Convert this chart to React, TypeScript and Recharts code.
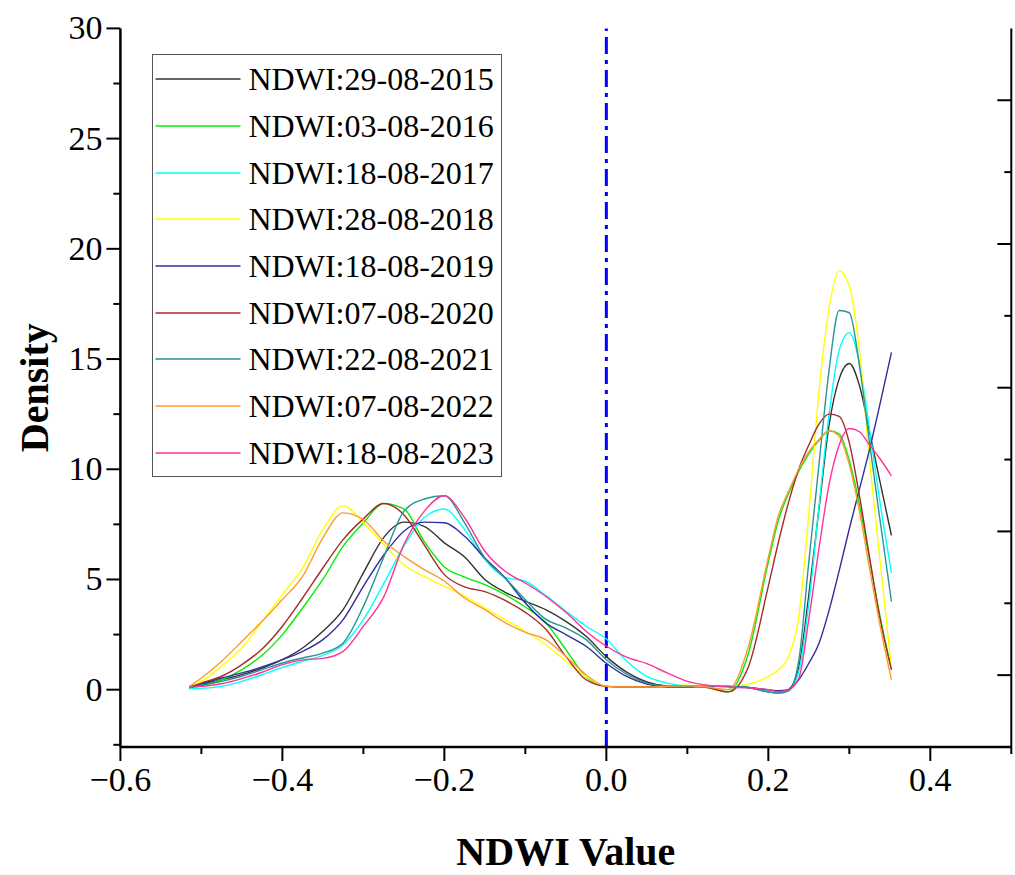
import { LineChart, Line, XAxis, YAxis, ReferenceLine, Legend, Label } from "recharts";

const FONT = '"Liberation Serif", "Times New Roman", serif';

// NDWI value (x) for every sample
const ndwiX = [
  -0.515, -0.5, -0.475, -0.45, -0.425, -0.4, -0.375, -0.35, -0.325, -0.3,
  -0.275, -0.25, -0.225, -0.2, -0.175, -0.15, -0.125, -0.1, -0.075, -0.05,
  -0.025, 0, 0.025, 0.05, 0.075, 0.1, 0.125, 0.15, 0.175, 0.2,
  0.2125, 0.225, 0.2375, 0.25, 0.2625, 0.275, 0.2875, 0.3, 0.3125, 0.325,
  0.3375, 0.352,
];

// density per date
const d2015 = [
  0.1, 0.23, 0.45, 0.68, 0.98, 1.36, 1.89, 2.65, 3.63, 5.3,
  6.9, 7.6, 7.41, 6.66, 6.02, 5.0, 4.42, 4.01, 3.63, 3.1,
  2.42, 1.5, 0.8, 0.35, 0.17, 0.15, 0.15, 0.15, 0.1, -0.1,
  -0.15, 0.0, 1.0, 4.3, 8.2, 12.0, 14.1, 14.8, 13.8, 11.7,
  9.5, 7.0,
];
const d2016 = [
  0.1, 0.18, 0.45, 0.91, 1.56, 2.5, 3.71, 5.0, 6.51, 7.57,
  8.45, 8.2, 6.73, 5.57, 5.11, 4.77, 4.31, 3.75, 3.05, 1.82,
  0.58, 0.15, 0.12, 0.12, 0.15, 0.18, 0.1, -0.1, 1.6, 5.8,
  7.7, 8.9, 9.9, 10.7, 11.3, 11.75, 11.6, 10.4, 8.4, 5.9,
  3.4, 0.95,
];
const d2017 = [
  0.05, 0.06, 0.15, 0.38, 0.68, 1.01, 1.29, 1.56, 2.04, 3.18,
  4.8, 6.51, 7.8, 8.2, 7.26, 5.9, 5.1, 4.92, 4.28, 3.56,
  2.88, 2.3, 1.3, 0.6, 0.3, 0.18, 0.15, 0.15, 0.1, -0.1,
  -0.15, -0.05, 0.8, 3.9, 8.3, 12.5, 15.4, 16.2, 14.8, 11.8,
  8.6, 5.3,
];
const d2018 = [
  0.15, 0.38, 1.06, 1.89, 3.1, 4.31, 5.52, 7.26, 8.35, 7.57,
  6.6, 5.67, 5.14, 4.69, 4.24, 3.71, 3.18, 2.65, 2.04, 1.29,
  0.6, 0.15, 0.15, 0.15, 0.17, 0.2, 0.15, 0.15, 0.25, 0.6,
  0.9, 1.5, 3.3, 8.0, 13.5, 17.3, 19.0, 18.3, 15.4, 10.4,
  6.0, 1.0,
];
const d2019 = [
  0.1, 0.27, 0.53, 0.76, 1.03, 1.36, 1.74, 2.27, 3.18, 4.69,
  6.1, 7.19, 7.6, 7.57, 6.96, 5.97, 5.07, 3.93, 3.03, 2.5,
  1.97, 1.2, 0.6, 0.25, 0.12, 0.12, 0.15, 0.15, 0.1, 0.0,
  -0.05, 0.0, 0.45, 1.2, 2.1, 3.6, 5.4, 7.3, 9.1, 10.9,
  12.9, 15.3,
];
const d2020 = [
  0.1, 0.3, 0.61, 1.14, 1.85, 2.88, 4.16, 5.52, 6.81, 7.75,
  8.45, 7.94, 6.58, 5.22, 4.66, 4.45, 4.05, 3.51, 2.75, 1.51,
  0.45, 0.15, 0.12, 0.12, 0.15, 0.18, 0.1, -0.1, 1.0, 4.7,
  6.7, 8.5, 10.0, 11.1, 12.05, 12.5, 12.4, 11.2, 8.8, 6.0,
  3.3, 0.9,
];
const d2021 = [
  0.1, 0.2, 0.38, 0.61, 0.91, 1.21, 1.44, 1.66, 2.12, 3.78,
  6.0, 8.09, 8.65, 8.8, 7.57, 5.97, 5.07, 4.08, 3.2, 2.8,
  2.27, 1.36, 0.7, 0.3, 0.17, 0.15, 0.15, 0.15, 0.1, -0.1,
  -0.15, -0.05, 1.3, 5.8, 10.2, 14.5, 17.2, 17.1, 14.7, 11.2,
  7.8, 4.0,
];
const d2022 = [
  0.15, 0.53, 1.29, 2.19, 3.1, 4.09, 5.14, 6.89, 8.02, 7.72,
  6.75, 6.05, 5.45, 4.92, 4.16, 3.63, 3.04, 2.6, 2.27, 1.51,
  0.68, 0.15, 0.12, 0.12, 0.15, 0.18, 0.12, 0.0, 1.9, 6.0,
  7.9, 9.0, 10.0, 10.8, 11.35, 11.75, 11.5, 10.2, 8.1, 5.5,
  3.0, 0.45,
];
const d2023 = [
  0.1, 0.15, 0.27, 0.5, 0.79, 1.14, 1.35, 1.42, 1.74, 2.88,
  4.2, 6.58, 8.09, 8.8, 7.8, 6.28, 5.37, 4.84, 4.24, 3.51,
  2.65, 1.97, 1.48, 1.18, 0.76, 0.38, 0.2, 0.12, 0.08, 0.0,
  -0.1, 0.0, 0.5, 3.2, 6.4, 9.3, 11.1, 11.85, 11.7, 11.1,
  10.5, 9.7,
];

const seriesNames = [
  "NDWI:29-08-2015", "NDWI:03-08-2016", "NDWI:18-08-2017", "NDWI:28-08-2018", "NDWI:18-08-2019",
  "NDWI:07-08-2020", "NDWI:22-08-2021", "NDWI:07-08-2022", "NDWI:18-08-2023",
];
const seriesColors = [
  "#333333", "#00ee00", "#00ffff", "#ffff00", "#2e2e9e",
  "#a52a2a", "#259595", "#ff9933", "#ff3399",
];
const seriesValues = [d2015, d2016, d2017, d2018, d2019, d2020, d2021, d2022, d2023];

const xTicks = [-0.6, -0.5, -0.4, -0.3, -0.2, -0.1, 0, 0.1, 0.2, 0.3, 0.4, 0.5];
const yTicks = [-2.5, 0, 2.5, 5, 7.5, 10, 12.5, 15, 17.5, 20, 22.5, 25, 27.5, 30];
const rightTicks = [0, 0.5, 1, 1.5, 2, 2.5, 3, 3.5, 4];

const rows = ndwiX.map((x, i) => {
  const r: any = { x };
  seriesValues.forEach((vals, k) => {
    r["s" + k] = vals[i];
  });
  return r;
});

const fmt = (v: number) => v.toFixed(1).replace("-", "\u2212");

const BottomTick = (props: any) => {
  const { x, y, payload } = props;
  const v = payload.value;
  const major = Math.abs(Math.round(v * 10)) % 2 === 0;
  return (
    <g>
      <line x1={x} y1={y} x2={x} y2={y + (major ? 14 : 7)} stroke="#000" strokeWidth={2} />
      {major && (
        <text x={x} y={y + 44} textAnchor="middle" fontFamily={FONT} fontSize={34} fill="#000">
          {fmt(v)}
        </text>
      )}
    </g>
  );
};

const LeftTick = (props: any) => {
  const { x, y, payload } = props;
  const v = payload.value;
  const major = v % 5 === 0;
  return (
    <g>
      <line x1={x} y1={y} x2={x - (major ? 14 : 7)} y2={y} stroke="#000" strokeWidth={2} />
      {major && (
        <text x={x - 18} y={y + 11} textAnchor="end" fontFamily={FONT} fontSize={34} fill="#000">
          {v}
        </text>
      )}
    </g>
  );
};

const RightTick = (props: any) => {
  const { x, y, payload } = props;
  const major = Number.isInteger(payload.value);
  return <line x1={x} y1={y} x2={x - (major ? 14 : 7)} y2={y} stroke="#000" strokeWidth={2} />;
};

const XTitle = (props: any) => {
  const vb = props.viewBox || { x: 120, y: 747, width: 891, height: 128 };
  return (
    <text
      x={vb.x + vb.width / 2}
      y={vb.y + vb.height - 10}
      textAnchor="middle"
      fontFamily={FONT}
      fontSize={40}
      fontWeight="bold"
      fill="#000"
    >
      NDWI Value
    </text>
  );
};

const YTitle = (props: any) => {
  const vb = props.viewBox || { x: 0, y: 28, width: 120, height: 719 };
  const cx = vb.x + 48;
  const cy = vb.y + vb.height / 2;
  return (
    <text
      x={cx}
      y={cy}
      transform={`rotate(-90, ${cx}, ${cy})`}
      textAnchor="middle"
      fontFamily={FONT}
      fontSize={40}
      fontWeight="bold"
      fill="#000"
    >
      Density
    </text>
  );
};

// legend keeps the series order of the source figure
const LegendBox = () => (
  <div
    style={{
      border: "1.5px solid #555",
      background: "#fff",
      width: 350,
      boxSizing: "border-box",
      paddingTop: 1,
    }}
  >
    {seriesNames.map((name, k) => (
      <div key={name} style={{ display: "flex", alignItems: "center", height: 46.67 }}>
        <svg width={95.5} height={10} style={{ flex: "none" }}>
          <line x1={2.5} y1={5} x2={87.5} y2={5} stroke={seriesColors[k]} strokeWidth={1.6} />
        </svg>
        <span style={{ fontFamily: FONT, fontSize: 32, color: "#000", lineHeight: 1, whiteSpace: "nowrap" }}>
          {name}
        </span>
      </div>
    ))}
  </div>
);

export default function App() {
  return (
    <div style={{ position: "absolute", left: 0, top: 0, width: 1015, height: 875, background: "#fff" }}>
      <LineChart width={1015} height={875} data={rows} margin={{ top: 28.4, right: 0, bottom: 0, left: 0 }}>
        <XAxis
          dataKey="x"
          type="number"
          scale="linear"
          domain={[-0.6, 0.5]}
          allowDataOverflow
          ticks={xTicks}
          interval={0}
          height={128}
          tickSize={0}
          tickMargin={0}
          tickLine={false}
          tick={<BottomTick />}
          axisLine={{ stroke: "#000", strokeWidth: 2.5 }}
        >
          <Label content={<XTitle />} />
        </XAxis>
        <XAxis
          xAxisId="top"
          orientation="top"
          type="number"
          domain={[-0.6, 0.5]}
          allowDataOverflow
          height={0}
          tick={false}
          tickLine={false}
          axisLine={{ stroke: "#000", strokeWidth: 2 }}
        />
        <YAxis
          type="number"
          domain={[-2.6, 30]}
          allowDataOverflow
          ticks={yTicks}
          interval={0}
          width={120.4}
          tickSize={0}
          tickMargin={0}
          tickLine={false}
          tick={<LeftTick />}
          axisLine={{ stroke: "#000", strokeWidth: 2.5 }}
        >
          <Label content={<YTitle />} />
        </YAxis>
        <YAxis
          yAxisId="right"
          orientation="right"
          type="number"
          domain={[-0.5, 4.5]}
          allowDataOverflow
          ticks={rightTicks}
          interval={0}
          width={3.7}
          tickSize={0}
          tickMargin={0}
          tickLine={false}
          tick={<RightTick />}
          axisLine={{ stroke: "#000", strokeWidth: 2 }}
        />
        <ReferenceLine x={0} stroke="#0000ff" strokeWidth={3} strokeDasharray="17 6 4 6" />
        <Legend
          layout="vertical"
          align="center"
          verticalAlign="middle"
          wrapperStyle={{ left: 152, top: 54, width: 350 }}
          content={<LegendBox />}
        />
        {seriesNames.map((name, k) => (
          <Line
            key={name}
            dataKey={"s" + k}
            name={name}
            stroke={seriesColors[k]}
            strokeWidth={1.4}
            type="monotone"
            dot={false}
            activeDot={false}
            isAnimationActive={false}
          />
        ))}
      </LineChart>
    </div>
  );
}
